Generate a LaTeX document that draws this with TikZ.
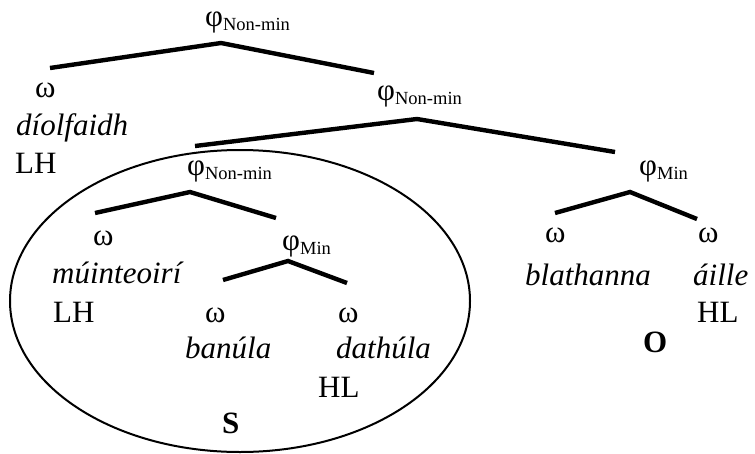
\documentclass[tikz,border=0pt]{standalone}
\usepackage{fontspec}
\setmainfont{Liberation Serif}
\newcommand\phrsub[1]{\raisebox{-0.16em}{\fontsize{18.5}{20}\selectfont #1}}
\begin{document}
\begin{tikzpicture}[x=1pt,y=-1pt,
  lbl/.style={anchor=base west,inner sep=0pt,font=\fontsize{31}{36}\selectfont},
  branch/.style={line width=4.4pt,line join=miter},
  phrase/.style={line width=2pt}]
\useasboundingbox (0,0) rectangle (755,453);

% prosodic labels
\node[lbl] (pA) at (205,26) {φ\phrsub{Non-min}};
\node[lbl] (wA) at (35,97) {ω};
\node[lbl] (tA) at (16,135) {\itshape díolfaidh};
\node[lbl] (hA) at (15,173) {LH};
\node[lbl] (pB) at (377,100) {φ\phrsub{Non-min}};
\node[lbl] (pC) at (187,175) {φ\phrsub{Non-min}};
\node[lbl] (pD) at (639,175) {φ\phrsub{Min}};
\node[lbl] (wB) at (93,245) {ω};
\node[lbl] (pE) at (282,250) {φ\phrsub{Min}};
\node[lbl] (tB) at (52,283) {\itshape múinteoirí};
\node[lbl] (hB) at (53,322) {LH};
\node[lbl] (wC) at (205,322) {ω};
\node[lbl] (wD) at (338,322) {ω};
\node[lbl] (tC) at (185,358) {\itshape banúla};
\node[lbl] (tD) at (336,358) {\itshape dathúla};
\node[lbl] (hD) at (318,397) {HL};
\node[lbl] (S) at (222,433) {\bfseries S};
\node[lbl] (wE) at (545,242) {ω};
\node[lbl] (wF) at (698,242) {ω};
\node[lbl] (tE) at (525,285) {\itshape blathanna};
\node[lbl] (tF) at (693,285) {\itshape áille};
\node[lbl] (hF) at (697,322) {HL};
\node[lbl] (O) at (643,352) {\bfseries O};

% branch points
\coordinate (rA) at (221,43);  \coordinate (lA1) at (50,68);   \coordinate (lA2) at (374,73);
\coordinate (rB) at (417,119); \coordinate (lB1) at (195,146); \coordinate (lB2) at (615,152);
\coordinate (rC) at (190,192); \coordinate (lC1) at (95,213);  \coordinate (lC2) at (276,218);
\coordinate (rE) at (288,261); \coordinate (lE1) at (223,280); \coordinate (lE2) at (347,283);
\coordinate (rD) at (630,192); \coordinate (lD1) at (555,213); \coordinate (lD2) at (697,219);

\draw[branch] (lA1) -- (rA) -- (lA2);
\draw[branch] (lB1) -- (rB) -- (lB2);
\draw[branch] (lC1) -- (rC) -- (lC2);
\draw[branch] (lE1) -- (rE) -- (lE2);
\draw[branch] (lD1) -- (rD) -- (lD2);

% subject phrase
\coordinate (subj) at (240,301);
\draw[phrase] (subj) ellipse [x radius=230, y radius=151];
\end{tikzpicture}
\end{document}
